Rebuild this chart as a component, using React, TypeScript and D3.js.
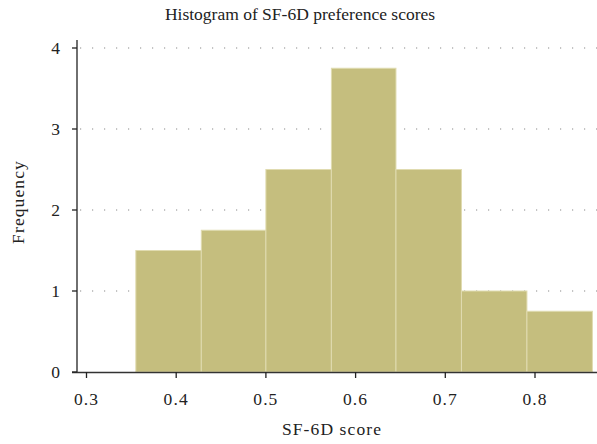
import React from "react";
import * as d3 from "d3";

const binEdges = [0.355, 0.428, 0.5, 0.573, 0.645, 0.718, 0.791, 0.864];
const frequencies = [1.5, 1.75, 2.5, 3.75, 2.5, 1.0, 0.75];
const xTicks = [0.3, 0.4, 0.5, 0.6, 0.7, 0.8];
const yTicks = [0, 1, 2, 3, 4];
const gridLevels = [1, 2, 3, 4];

const W = 597, H = 444;
const FONT = "'Liberation Serif', 'Times New Roman', serif";
const LS = 1.1;

export default function App() {
  const x = d3.scaleLinear().domain([0.3, 0.8]).range([86.5, 535]);
  const y = d3.scaleLinear().domain([0, 4]).range([372, 48]);
  const bins = frequencies.map((f, i) => ({ x0: binEdges[i], x1: binEdges[i + 1], f }));
  return (
    <svg width={W} height={H} style={{ position: "absolute", left: 0, top: 0, background: "#fff" }}>
      {gridLevels.map((g) => (
        <line key={g} x1={80} x2={W} y1={y(g)} y2={y(g)} stroke="#8a8a8a" strokeWidth={1.2} strokeDasharray="1.2 10.8" />
      ))}
      {bins.map((b, i) => (
        <rect key={i} x={x(b.x0)} y={y(b.f)} width={x(b.x1) - x(b.x0)} height={y(0) - y(b.f)}
          fill="#c5be7e" stroke="#e0dbb0" strokeWidth={1} />
      ))}
      <line x1={77} x2={77} y1={40} y2={372} stroke="#222" strokeWidth={1.3} />
      <line x1={72} x2={W} y1={372.5} y2={372.5} stroke="#333" strokeWidth={1.6} />
      {yTicks.map((t) => (
        <g key={t}>
          <line x1={72} x2={77} y1={y(t)} y2={y(t)} stroke="#222" strokeWidth={1.3} />
          <text x={60} y={y(t)} dy="0.35em" textAnchor="end" fontFamily={FONT} fontSize={17.5} fill="#222">{t}</text>
        </g>
      ))}
      {xTicks.map((t) => (
        <g key={t}>
          <line x1={x(t)} x2={x(t)} y1={372} y2={378} stroke="#222" strokeWidth={1.3} />
          <text x={x(t)} y={405} textAnchor="middle" fontFamily={FONT} fontSize={17.5} letterSpacing={LS} fill="#222">{d3.format(".1f")(t)}</text>
        </g>
      ))}
      <text x={300} y={20} textAnchor="middle" fontFamily={FONT} fontSize={17.5} fill="#222">Histogram of SF-6D preference scores</text>
      <text x={332} y={435} textAnchor="middle" fontFamily={FONT} fontSize={17.5} letterSpacing={LS} fill="#222">SF-6D score</text>
      <text transform={`translate(24,202) rotate(-90)`} textAnchor="middle" fontFamily={FONT} fontSize={17.5} letterSpacing={LS} fill="#222">Frequency</text>
    </svg>
  );
}
